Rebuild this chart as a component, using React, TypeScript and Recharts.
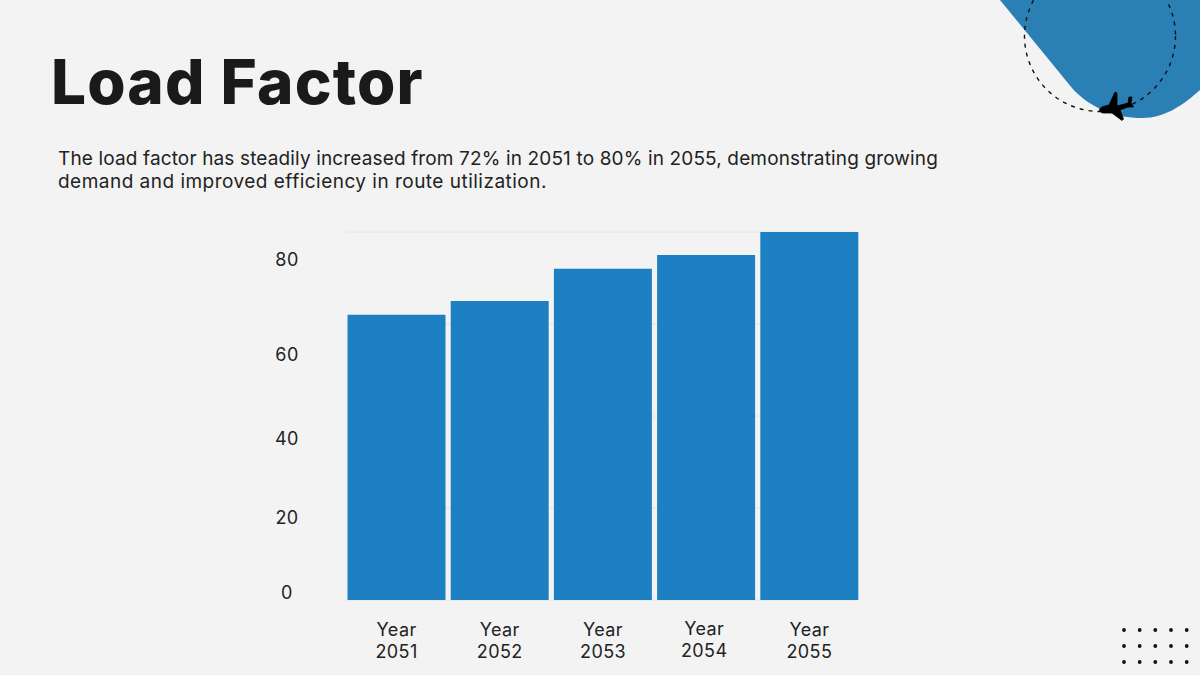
import { Bar, BarChart, CartesianGrid, XAxis, YAxis } from 'recharts';

const years = ['2051', '2052', '2053', '2054', '2055'];
const loadFactor = [62, 65, 72, 75, 80];
const yTicks = [0, 20, 40, 60, 80];
const dotColumns = [1124, 1139.7, 1155.3, 1171, 1186.7];
const dotRows = [630, 646, 662];

const chartData = years.map((year, i) => ({ year, value: loadFactor[i] }));

// the reference's y labels sit off their gridlines, so nudge them by hand
const yLabelShift: Record<number, number> = { 0: -8, 20: 9, 40: 22, 60: 30, 80: 27 };
const xLabelShift: Record<string, number> = { '2051': 0, '2052': 0, '2053': 0, '2054': -2, '2055': 0 };

const font = 'Inter, sans-serif';

function YTick({ y, payload }: any) {
  return (
    <text x={287} y={y + yLabelShift[payload.value]} dy={6.5} textAnchor="middle" fontFamily={font} fontSize={18} letterSpacing={0.4} fill="#222">
      {payload.value}
    </text>
  );
}

function XTick({ x, y, payload }: any) {
  const cx = x + xLabelShift[payload.value];
  const top = payload.value === '2054' ? y - 1 : y;
  return (
    <text textAnchor="middle" fontFamily={font} fontSize={18} letterSpacing={0.4} fill="#222">
      <tspan x={cx} y={top + 28}>Year</tspan>
      <tspan x={cx} y={top + 50}>{payload.value}</tspan>
    </text>
  );
}

function Decoration() {
  return (
    <svg width={1200} height={675} style={{ position: 'absolute', left: 0, top: 0 }}>
      <path d="M1000 0 L1072 88 C1090 108 1115 118 1142 118 C1165 118 1183 105 1200 90 L1200 0 Z" fill="#2a7fb5" />
      <circle cx={1100} cy={36} r={75.5} fill="none" stroke="#111" strokeWidth={1.4} strokeDasharray="4 5" />
      <path
        d="M1099.5 109.5 C1100 107.5 1103 106.5 1105 106 L1109 105 L1115 92 L1117 93 L1117 106 L1128 103 L1129 97 L1132 97 L1131 103 L1133.5 107 L1128 107 L1120 110 L1123.5 119 L1122 120.5 L1112 113 L1103 113 C1100.5 112.5 1099.5 111 1099.5 109.5 Z"
        fill="#000"
        stroke="#000"
        strokeWidth={0.8}
      />
      {dotRows.map((cy) => dotColumns.map((cx) => <circle key={`${cx}-${cy}`} cx={cx} cy={cy} r={1.9} fill="#111" />))}
    </svg>
  );
}

export default function App() {
  return (
    <div style={{ position: 'absolute', left: 0, top: 0, width: 1200, height: 675, background: '#f3f3f3', overflow: 'hidden' }}>
      <Decoration />
      <div style={{ position: 'absolute', left: 51, top: 43, fontFamily: font, fontSize: 62, fontWeight: 800, letterSpacing: 1.15, color: '#1a1a1a', lineHeight: '78px', whiteSpace: 'nowrap' }}>
        Load Factor
      </div>
      <div style={{ position: 'absolute', left: 58, top: 147, fontFamily: font, fontSize: 19, color: '#222', lineHeight: '23px', whiteSpace: 'nowrap' }}>
        <div style={{ letterSpacing: 0.14 }}>The load factor has steadily increased from 72% in 2051 to 80% in 2055, demonstrating growing</div>
        <div style={{ letterSpacing: 0.48 }}>demand and improved efficiency in route utilization.</div>
      </div>
      <div style={{ position: 'absolute', left: 0, top: 0 }}>
        <BarChart
          width={1200}
          height={675}
          data={chartData}
          margin={{ top: 232, right: 339, bottom: 0, left: 245 }}
          barCategoryGap={2.5}
        >
          <CartesianGrid horizontal vertical={false} stroke="#e2e4e4" x={347} width={512} />
          <XAxis dataKey="year" height={75} interval={0} axisLine={false} tickLine={false} tick={<XTick />} />
          <YAxis width={100} domain={[0, 80]} ticks={yTicks} axisLine={false} tickLine={false} tick={<YTick />} />
          <Bar dataKey="value" fill="#1d80c3" isAnimationActive={false} />
        </BarChart>
      </div>
    </div>
  );
}
